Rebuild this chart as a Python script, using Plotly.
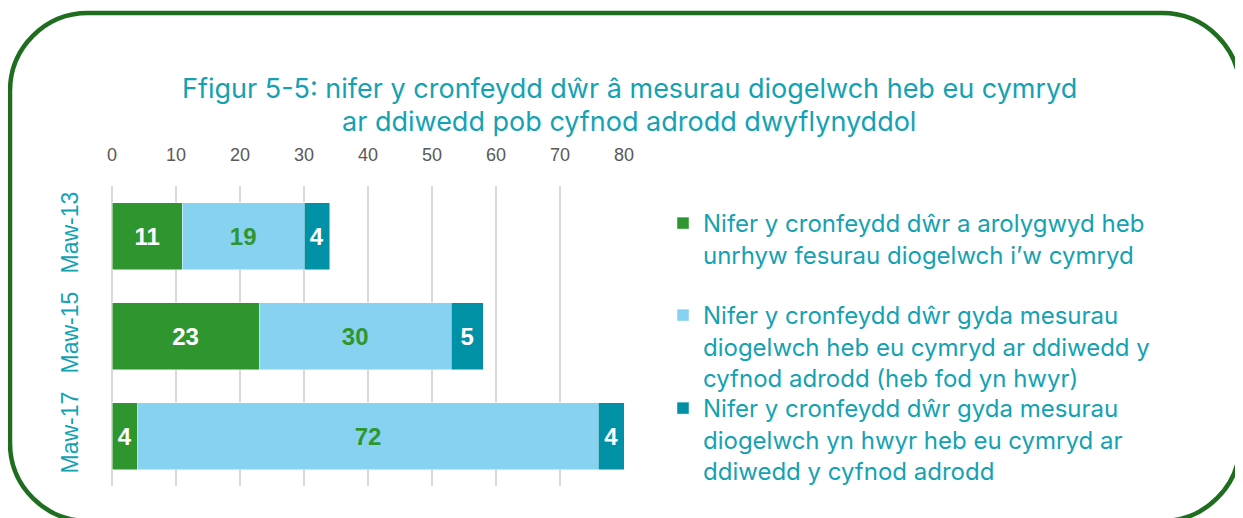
import plotly.graph_objects as go

# ---- data ----
periods = ["Maw-13", "Maw-15", "Maw-17"]
no_measures = [11, 23, 4]
not_overdue = [19, 30, 72]
overdue = [4, 5, 4]
x_ticks = [0, 10, 20, 30, 40, 50, 60, 70, 80]

series_names = [
    "Nifer y cronfeydd dŵr a arolygwyd heb<br>unrhyw fesurau diogelwch i’w cymryd",
    "Nifer y cronfeydd dŵr gyda mesurau<br>diogelwch heb eu cymryd ar ddiwedd y<br>cyfnod adrodd (heb fod yn hwyr)",
    "Nifer y cronfeydd dŵr gyda mesurau<br>diogelwch yn hwyr heb eu cymryd ar<br>ddiwedd y cyfnod adrodd",
]
title_lines = [
    "Ffigur 5-5: nifer y cronfeydd dŵr â mesurau diogelwch heb eu cymryd",
    "ar ddiwedd pob cyfnod adrodd dwyflynyddol",
]

# ---- style / geometry (page pixels; the page body has an 8px margin) ----
OFF = 8
W, H = 1243 - OFF, 518 - OFF
L, R, T, B = 104, 619, 178, 32
PW, PH = W - L - R, H - T - B
GREEN = "#2F962F"
LIGHT = "#86D2F0"
TEAL = "#0091A7"
TXT = "#14A2B3"
FONT = "Liberation Sans, Arial, sans-serif"
FONT2 = "Inter, Liberation Sans, Arial, sans-serif"


def px2paper(x, y):
    """page pixel -> paper coords"""
    x, y = x - OFF, y - OFF
    return (x - L) / PW, 1 - (y - T) / PH


fig = go.Figure()
specs = [
    (no_measures, GREEN, "white", series_names[0], "legend"),
    (not_overdue, LIGHT, GREEN, series_names[1], "legend2"),
    (overdue, TEAL, "white", series_names[2], "legend3"),
]
for vals, col, tcol, name, leg in specs:
    fig.add_trace(go.Bar(
        y=periods, x=vals, orientation="h", name=name,
        marker=dict(color=col, line=dict(color="rgba(255,255,255,0.6)", width=0.8)),
        text=[str(v) for v in vals], textposition="inside",
        insidetextanchor="middle", textangle=0, constraintext="none",
        textfont=dict(color=tcol, size=24, family=FONT, weight="bold"),
        legend=leg, hoverinfo="skip",
    ))

# rounded border as path (page pixel coords -> paper)
x0, x1, y0, y1, r = 10, 1240, 13, 521, 78
k = 0.5523 * r


def P(x, y):
    a, b = px2paper(x, y)
    return f"{a:.5f},{b:.5f}"


path = (
    f"M{P(x0 + r, y0)} L{P(x1 - r, y0)} "
    f"C{P(x1 - r + k, y0)} {P(x1, y0 + r - k)} {P(x1, y0 + r)} "
    f"L{P(x1, y1 - r)} "
    f"C{P(x1, y1 - r + k)} {P(x1 - r + k, y1)} {P(x1 - r, y1)} "
    f"L{P(x0 + r, y1)} "
    f"C{P(x0 + r - k, y1)} {P(x0, y1 - r + k)} {P(x0, y1 - r)} "
    f"L{P(x0, y0 + r)} "
    f"C{P(x0, y0 + r - k)} {P(x0 + r - k, y0)} {P(x0 + r, y0)} Z"
)
fig.add_shape(type="path", path=path, xref="paper", yref="paper",
              line=dict(color="#1F6E1F", width=4.5), layer="above")

for txt, yy in zip(title_lines, [88, 122]):
    tx, ty = px2paper(629, yy)
    fig.add_annotation(text=txt, x=tx, y=ty, xref="paper", yref="paper",
                       xanchor="center", yanchor="middle", showarrow=False,
                       font=dict(size=27, color=TXT, family=FONT2))


def legend_box(xp, yp):
    a, b = px2paper(xp, yp)
    return dict(x=a, y=b, xanchor="left", yanchor="top", bgcolor="rgba(0,0,0,0)",
                font=dict(size=24, color=TXT, family=FONT2), valign="top",
                borderwidth=0, itemclick=False, itemdoubleclick=False)


fig.update_layout(
    width=W, height=H,
    margin=dict(l=L, r=R, t=T, b=B, pad=0),
    paper_bgcolor="white", plot_bgcolor="white",
    barmode="stack", bargap=0.33,
    showlegend=True,
    legend=legend_box(663, 201),
    legend2=legend_box(663, 293),
    legend3=legend_box(663, 386),
    xaxis=dict(side="top", range=[0, 80], tickvals=x_ticks,
               showgrid=True, gridcolor="#D9D9D9", gridwidth=1.5,
               zeroline=True, zerolinecolor="#D9D9D9", zerolinewidth=1.5,
               showline=False, ticks="", ticklabelstandoff=20,
               tickfont=dict(size=18, color="#595959", family=FONT)),
    yaxis=dict(categoryorder="array", categoryarray=periods,
               autorange="reversed", showgrid=False, zeroline=False,
               showline=False, ticks="", tickangle=-90, ticklabelstandoff=28,
               tickfont=dict(size=23, color=TXT, family=FONT)),
)

fig.write_html("out.html")
